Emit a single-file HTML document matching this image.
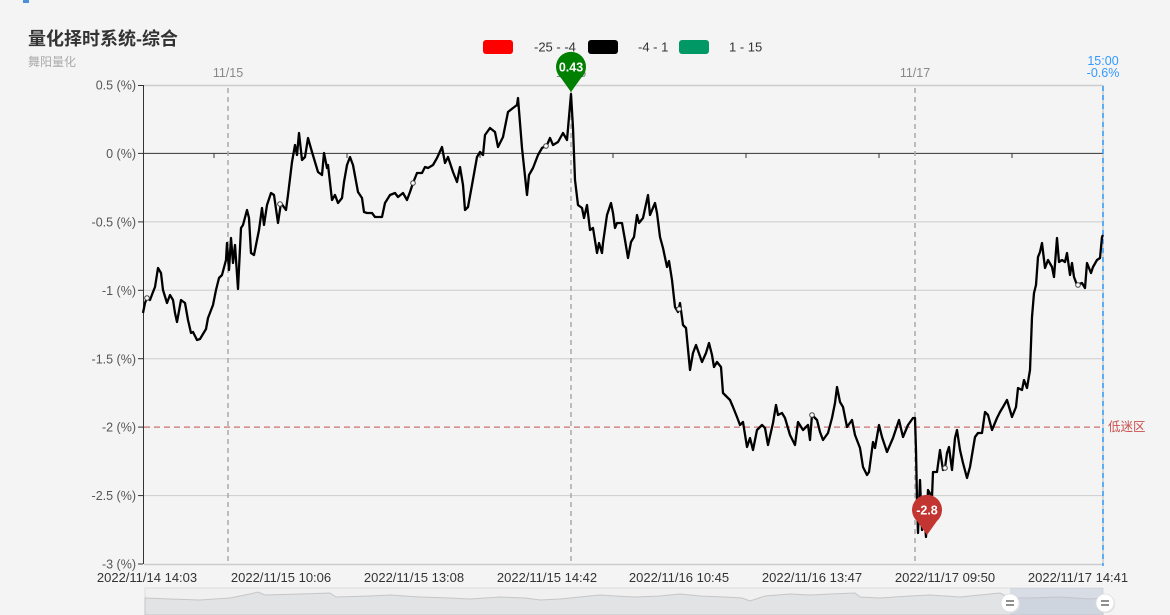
<!DOCTYPE html>
<html><head><meta charset="utf-8"><style>
html,body{margin:0;padding:0;background:#f4f4f4;}
svg{display:block;font-family:"Liberation Sans","Noto Sans CJK SC",sans-serif;}
</style></head><body>
<svg width="1170" height="615" viewBox="0 0 1170 615" xmlns="http://www.w3.org/2000/svg">
<rect x="0" y="0" width="1170" height="615" fill="#f4f4f4"/>
<rect x="23" y="0" width="6" height="3" fill="#4a8fd8"/>
<text x="28" y="45" font-size="18" font-weight="bold" fill="#333" font-family="'Liberation Sans','Noto Sans CJK SC',sans-serif">量化择时系统-综合</text>
<text x="28" y="66" font-size="12" fill="#aaa" font-family="'Liberation Sans','Noto Sans CJK SC',sans-serif">舞阳量化</text>

<!-- legend -->
<rect x="483" y="40" width="30" height="14" rx="3" fill="#ff0000"/>
<text x="534" y="51.5" font-size="13" fill="#333">-25 - -4</text>
<rect x="588" y="40" width="30" height="14" rx="3" fill="#000"/>
<text x="638" y="51.5" font-size="13" fill="#333">-4 - 1</text>
<rect x="679" y="40" width="30" height="14" rx="3" fill="#009966"/>
<text x="729" y="51.5" font-size="13" fill="#333">1 - 15</text>

<!-- grid -->
<g stroke="#cccccc" stroke-width="1">
<line x1="144" y1="85.5" x2="1103" y2="85.5" stroke-width="1.5"/>
<line x1="144" y1="221.9" x2="1103" y2="221.9"/>
<line x1="144" y1="290.3" x2="1103" y2="290.3"/>
<line x1="144" y1="358.7" x2="1103" y2="358.7"/>
<line x1="144" y1="495.6" x2="1103" y2="495.6"/>
<line x1="144" y1="564.5" x2="1103" y2="564.5" stroke-width="1.5"/>
<line x1="1103" y1="85" x2="1103" y2="564" stroke-width="1.5"/>
</g>
<!-- zero axis -->
<line x1="143" y1="153.4" x2="1103" y2="153.4" stroke="#333" stroke-width="1"/>
<g stroke="#333" stroke-width="1">
<line x1="214" y1="153" x2="214" y2="158"/><line x1="347" y1="153" x2="347" y2="158"/>
<line x1="480" y1="153" x2="480" y2="158"/><line x1="613" y1="153" x2="613" y2="158"/>
<line x1="746" y1="153" x2="746" y2="158"/><line x1="879" y1="153" x2="879" y2="158"/>
<line x1="1012" y1="153" x2="1012" y2="158"/>
</g>
<!-- y axis -->
<line x1="143.5" y1="85" x2="143.5" y2="564" stroke="#333" stroke-width="1"/>
<g stroke="#333" stroke-width="1">
<line x1="138" y1="85.5" x2="143" y2="85.5"/><line x1="138" y1="153.4" x2="143" y2="153.4"/>
<line x1="138" y1="221.9" x2="143" y2="221.9"/><line x1="138" y1="290.3" x2="143" y2="290.3"/>
<line x1="138" y1="358.7" x2="143" y2="358.7"/><line x1="138" y1="427.1" x2="143" y2="427.1"/>
<line x1="138" y1="495.6" x2="143" y2="495.6"/><line x1="138" y1="564" x2="143" y2="564"/>
</g>
<g font-size="12.5" fill="#555" text-anchor="end">
<text x="136" y="89.5">0.5 (%)</text>
<text x="136" y="158">0 (%)</text>
<text x="136" y="226.5">-0.5 (%)</text>
<text x="136" y="295">-1 (%)</text>
<text x="136" y="363.5">-1.5 (%)</text>
<text x="136" y="431.5">-2 (%)</text>
<text x="136" y="500">-2.5 (%)</text>
<text x="136" y="568.5">-3 (%)</text>
</g>
<!-- x labels -->
<g font-size="13" fill="#333" text-anchor="middle">
<text x="147" y="582">2022/11/14 14:03</text>
<text x="281" y="582">2022/11/15 10:06</text>
<text x="414" y="582">2022/11/15 13:08</text>
<text x="547" y="582">2022/11/15 14:42</text>
<text x="679" y="582">2022/11/16 10:45</text>
<text x="812" y="582">2022/11/16 13:47</text>
<text x="945" y="582">2022/11/17 09:50</text>
<text x="1078" y="582">2022/11/17 14:41</text>
</g>

<!-- vertical day lines -->
<g stroke="#aaaaaa" stroke-width="1.5" stroke-dasharray="5,4">
<line x1="228" y1="88" x2="228" y2="564"/>
<line x1="571" y1="88" x2="571" y2="564"/>
<line x1="915" y1="88" x2="915" y2="564"/>
</g>
<g font-size="12.5" fill="#888" text-anchor="middle">
<text x="228" y="77">11/15</text>
<text x="571" y="77">11/16</text>
<text x="915" y="77">11/17</text>
</g>
<line x1="1103" y1="86" x2="1103" y2="566" stroke="#3399ff" stroke-width="1.5" stroke-dasharray="5,4"/>
<g font-size="12.5" fill="#3399ff" text-anchor="middle">
<text x="1103" y="65">15:00</text>
<text x="1103" y="77">-0.6%</text>
</g>

<!-- low zone line -->
<line x1="144" y1="427.1" x2="1103" y2="427.1" stroke="#cc7070" stroke-width="1.3" stroke-dasharray="6,4"/>
<text x="1108" y="431" font-size="12.5" fill="#c8504f" font-family="'Liberation Sans','Noto Sans CJK SC',sans-serif">低迷区</text>

<!-- series -->
<polyline fill="none" stroke="#000" stroke-width="2.3" stroke-linejoin="round" points="143,313 145,303 147,298 150,300 153,292 155,287 158,268 161,273 163,290 167,303 170,295 173,300 175,313 177,322 181,300 185,303 188,320 191,333 193,332 197,340 200,339 203,334 206,329 208,318 213,305 216,290 219,278 222,275 226,260 227,243 229,270 231,238 233,263 235,245 238,289 241,228 243,225 247,210 249,218 251,253 254,255 257,240 259,230 262,208 264,225 267,205 271,193 274,195 278,223 281,203 286,210 288,195 292,162 295,145 297,155 299,133 302,160 305,157 308,138 312,152 315,162 318,172 322,175 324,153 327,168 328,165 332,200 335,195 338,203 342,198 344,182 347,165 350,157 353,165 358,192 362,198 364,212 367,213 372,213 375,217 382,217 385,203 390,195 395,193 398,197 403,193 407,200 410,192 413,183 417,173 422,173 425,167 428,168 433,165 437,158 442,147 445,163 448,157 453,172 457,182 460,167 463,185 465,210 468,207 472,185 477,157 480,152 483,155 485,135 490,128 495,132 498,147 503,137 508,112 513,108 517,105 518,98 522,148 527,195 529,175 533,168 538,155 542,148 547,145 550,138 553,145 558,142 563,133 567,140 571,94 573,128 575,180 578,205 582,208 584,218 587,205 590,230 593,228 597,253 599,243 602,253 603,243 607,215 611,203 613,213 615,228 617,223 622,223 625,240 628,258 631,242 634,237 637,215 639,223 643,218 648,195 650,215 655,203 657,213 660,237 663,248 667,267 669,261 672,280 675,307 678,312 680,303 683,325 686,328 690,370 693,353 696,345 702,362 706,353 709,343 712,355 714,367 717,362 721,367 723,393 727,397 730,400 733,407 737,417 740,425 743,422 747,447 750,438 753,450 757,430 762,425 765,428 768,445 773,423 776,405 778,415 782,413 785,418 790,435 795,445 798,422 803,430 808,425 810,440 812,415 817,420 820,432 823,440 828,433 832,418 835,403 837,387 840,402 843,407 847,427 852,420 855,435 860,448 863,467 867,475 869,472 873,442 875,448 879,425 882,437 887,452 893,438 899,420 903,437 908,425 913,418 915,418 916,450 917,500 918,533 920,480 922,530 923,497 926,537 928,490 932,497 933,472 937,472 940,450 943,470 945,468 947,453 949,447 952,470 955,438 957,430 960,450 963,463 967,478 970,467 975,437 978,433 982,433 985,412 988,415 992,430 997,418 1000,412 1003,407 1007,400 1012,417 1016,407 1018,388 1022,390 1024,380 1027,388 1030,370 1032,317 1034,293 1036,285 1038,257 1040,252 1042,243 1045,268 1048,260 1052,267 1054,277 1057,238 1059,262 1062,260 1065,262 1067,253 1070,275 1072,263 1074,277 1077,285 1082,283 1085,288 1087,263 1091,273 1093,267 1097,260 1100,258 1102,237 1103,235"/>
<g fill="#fff" stroke="#444" stroke-width="1">
<circle cx="147" cy="298" r="2.3"/><circle cx="280" cy="204" r="2.3"/>
<circle cx="413" cy="183" r="2.3"/><circle cx="546" cy="146" r="2.3"/>
<circle cx="679" cy="309" r="2.3"/><circle cx="812" cy="415" r="2.3"/>
<circle cx="945" cy="468" r="2.3"/><circle cx="1078" cy="285" r="2.3"/>
</g>

<!-- pins -->
<g>
<path d="M571,92 L561,78 A15,15 0 1 1 581,78 Z" fill="#008000"/>
<text x="571" y="71.5" font-size="12.5" font-weight="bold" fill="#fff" text-anchor="middle">0.43</text>
<path d="M927,535 L917,521 A15,15 0 1 1 937,521 Z" fill="#c23531"/>
<text x="927" y="514.5" font-size="12.5" font-weight="bold" fill="#fff" text-anchor="middle">-2.8</text>
</g>

<!-- navigator -->
<rect x="145" y="588" width="958" height="27" fill="#f0f0f0" stroke="#dcdcdc" stroke-width="1"/>
<path fill="#e2e3e5" stroke="#c6c6c6" stroke-width="1" d="M145,598 L170,599 L200,600 L230,598 L250,594 L258,592 L265,595 L300,594 L330,593 L336,597 L370,596 L390,595 L420,597 L450,598 L470,599 L500,597 L525,598 L540,600 L560,599 L580,597 L600,595 L615,596 L635,597 L660,596 L680,594 L700,596 L725,597 L742,598 L750,601 L765,596 L790,594 L810,595 L830,594 L855,593 L860,597 L880,598 L910,596 L930,595 L960,597 L990,594 L1000,593 L1010,598 L1030,598 L1060,597 L1090,599 L1103,598 L1103,615 L145,615 Z"/>
<rect x="1010" y="588" width="93" height="27" fill="#b8c4d6" fill-opacity="0.45"/>
<g>
<circle cx="1011" cy="604" r="9" fill="#e0e0e0"/>
<circle cx="1010" cy="603" r="9" fill="#fff" stroke="#ddd" stroke-width="0.8"/>
<line x1="1006" y1="601" x2="1014" y2="601" stroke="#555" stroke-width="1.3"/>
<line x1="1006" y1="605" x2="1014" y2="605" stroke="#555" stroke-width="1.3"/>
<circle cx="1106" cy="604" r="9" fill="#e0e0e0"/>
<circle cx="1105" cy="603" r="9" fill="#fff" stroke="#ddd" stroke-width="0.8"/>
<line x1="1101" y1="601" x2="1109" y2="601" stroke="#555" stroke-width="1.3"/>
<line x1="1101" y1="605" x2="1109" y2="605" stroke="#555" stroke-width="1.3"/>
</g>
</svg>
</body></html>
